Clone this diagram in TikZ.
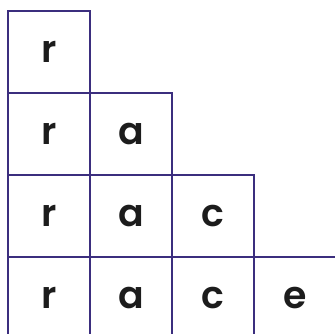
\documentclass[tikz,border=0pt]{standalone}
\usepackage{fontspec}
\setmainfont{Poppins}[UprightFont={* Medium}, BoldFont={* SemiBold}]
\usetikzlibrary{positioning}
\definecolor{gridline}{HTML}{3B2E7E}
\definecolor{letterink}{HTML}{1C1C1C}

\begin{document}
\begin{tikzpicture}[
    x=1bp, y=1bp,
    node distance=0pt,
    cell/.style={rectangle, draw=gridline, line width=1.6bp, minimum size=82bp, inner sep=0pt, outer sep=0pt, text=letterink, font=\fontsize{38}{40}\selectfont\bfseries},
]
    \useasboundingbox (0,0) rectangle (335,334);

    % Row 1
    \node[cell] (r1) at (49,282) {r};

    % Row 2
    \node[cell, below=of r1] (r2) {r};
    \node[cell, right=of r2] (a2) {a};

    % Row 3
    \node[cell, below=of r2] (r3) {r};
    \node[cell, right=of r3] (a3) {a};
    \node[cell, right=of a3] (c3) {c};

    % Row 4
    \node[cell, below=of r3] (r4) {r};
    \node[cell, right=of r4] (a4) {a};
    \node[cell, right=of a4] (c4) {c};
    \node[cell, right=of c4] (e4) {e};
\end{tikzpicture}
\end{document}
